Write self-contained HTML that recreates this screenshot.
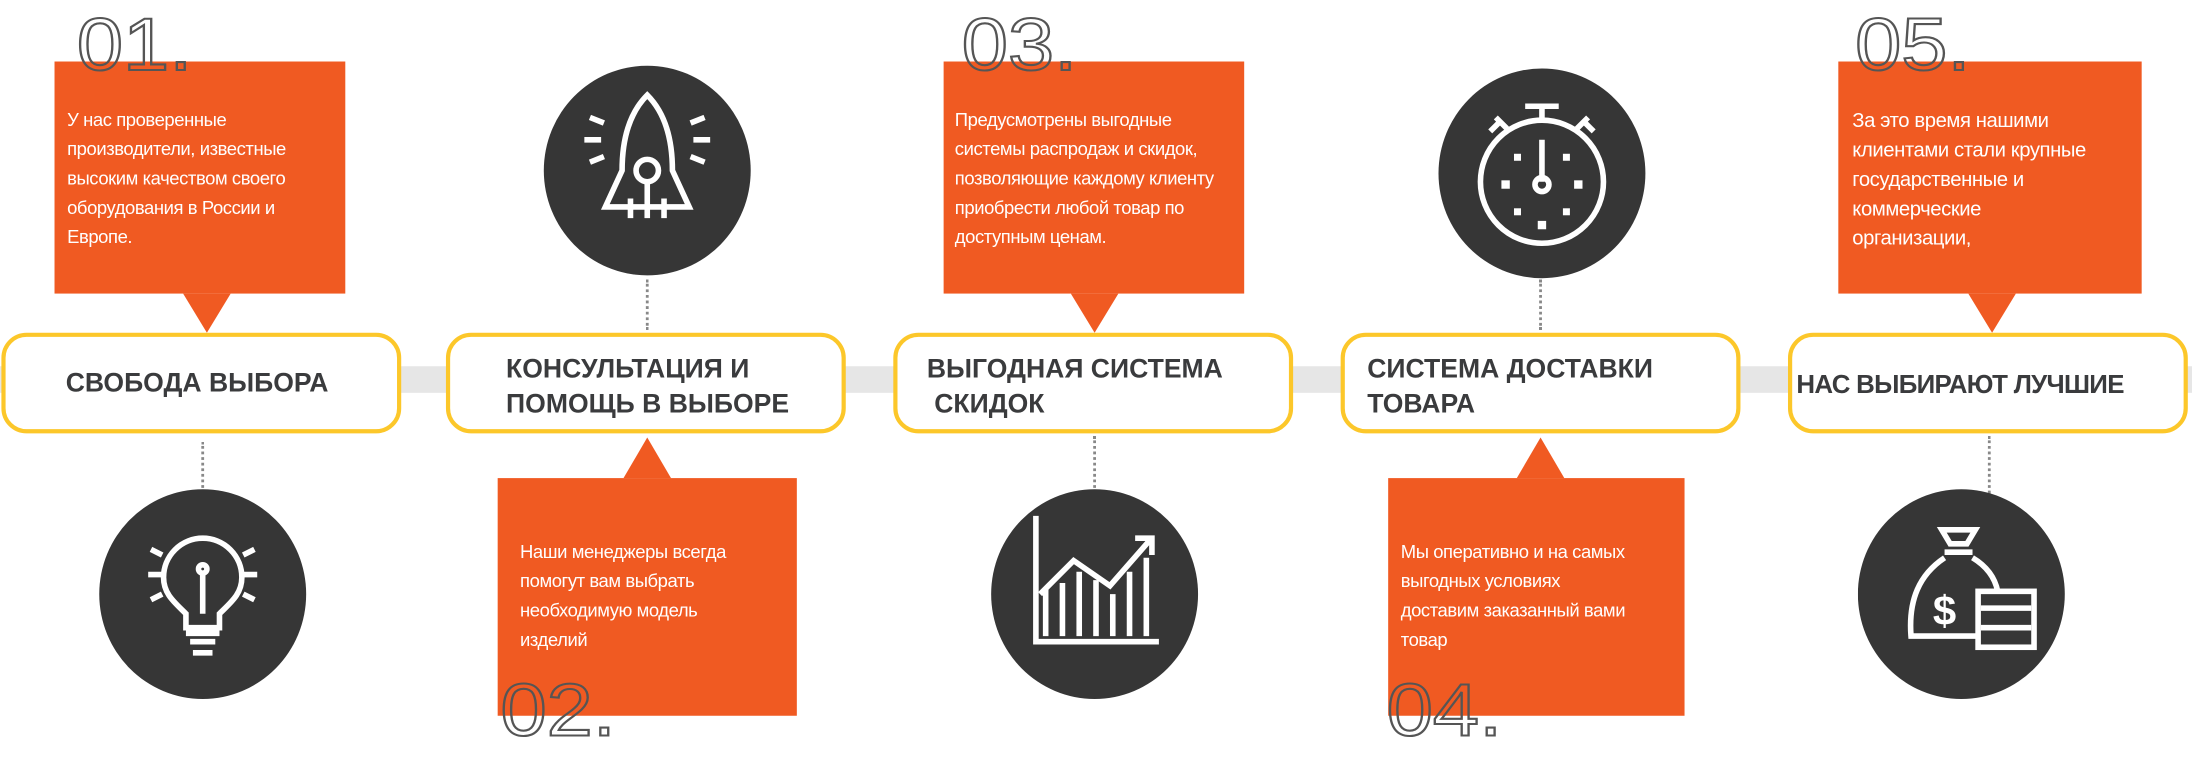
<!DOCTYPE html>
<html><head><meta charset="utf-8"><style>
html,body{margin:0;padding:0;background:#fff;width:2192px;height:764px;overflow:hidden}
#w{position:absolute;left:0;top:0;width:1568px;height:547px;transform:scale(1.39796);transform-origin:0 0;font-family:"Liberation Sans","DejaVu Sans",sans-serif}
.band{position:absolute;left:0;top:262px;width:1568px;height:19px;background:#e6e6e6}
.pill{position:absolute;top:238px;width:280px;height:66px;border:3px solid #fcc72a;border-radius:18px;background:#fff;box-sizing:content-box}
.pill div{position:absolute;font-weight:bold;font-size:19px;line-height:25px;color:#3a3b3d}
.box{position:absolute;background:#f05a22;color:#fff;font-size:13.2px;line-height:21px;letter-spacing:-0.3px}
.box p{margin:0;position:absolute}
.tri{position:absolute;width:0;height:0;border-left:17px solid transparent;border-right:17px solid transparent}
.num{position:absolute;font-size:53px;font-weight:normal;color:transparent;-webkit-text-stroke:1.5px #555;letter-spacing:0px;line-height:50px;transform:scaleX(1.12);transform-origin:0 0}
.dot{position:absolute;width:0;border-left:2px dotted #888}
svg.c{position:absolute}
</style></head><body><div id="w">
<div class="band"></div>

<!-- 1 -->
<div class="box" style="left:39px;top:44px;width:208px;height:166px"><p style="left:9px;top:31px">У нас проверенные<br>производители, известные<br>высоким качеством своего<br>оборудования в России и<br>Европе.</p></div>
<div class="tri" style="left:131px;top:210px;border-top:28px solid #f05a22"></div>
<div class="num" style="left:55px;top:8px">01.</div>
<div class="pill" style="left:1px"><div style="left:43px;top:21px">СВОБОДА ВЫБОРА</div></div>
<div class="dot" style="left:144px;top:316px;height:40px"></div>
<svg class="c" style="left:70px;top:349px" width="150" height="152" viewBox="0 0 150 152"><ellipse cx="75" cy="76" rx="74" ry="75" fill="#363636"/>
<g stroke="#fff" stroke-width="4" fill="none"><path d="M63 100 v-10 c-8-8-16-14-16-26 a28 28 0 1 1 56 0 c0 12-8 18-16 26 v10 z"/><path d="M75 60 v30"/><circle cx="75" cy="58" r="3"/><path d="M63 104 h24 M66 110 h18 M68 118 h14"/><path d="M38 44 l8 4 M36 62 h10 M38 80 l8 -4 M112 44 l-8 4 M114 62 h-10 M112 80 l-8 -4"/></g></svg>

<!-- 2 -->
<div class="box" style="left:356px;top:342px;width:214px;height:170px"><p style="left:16px;top:42px">Наши менеджеры всегда<br>помогут вам выбрать<br>необходимую модель<br>изделий</p></div>
<div class="tri" style="left:446px;top:313px;border-bottom:29px solid #f05a22"></div>
<div class="num" style="left:358px;top:484px">02.</div>
<div class="pill" style="left:319px"><div style="left:40px;top:11px">КОНСУЛЬТАЦИЯ И<br>ПОМОЩЬ В ВЫБОРЕ</div></div>
<div class="dot" style="left:462px;top:200px;height:36px"></div>
<svg class="c" style="left:388px;top:46px" width="150" height="152" viewBox="0 0 150 152"><ellipse cx="75" cy="76" rx="74" ry="75" fill="#363636"/>
<g stroke="#fff" stroke-width="4" fill="none"><path d="M75 22 c-14 14-18 34-18 54 l-12 26 h60 l-12-26 c0-20-4-40-18-54z"/><circle cx="75" cy="76" r="8"/><path d="M75 84 v26 M63 96 v14 M87 96 v14"/><path d="M34 38 l10 4 M30 54 h12 M34 70 l10-4 M116 38 l-10 4 M120 54 h-12 M116 70 l-10-4"/></g></svg>

<!-- 3 -->
<div class="box" style="left:675px;top:44px;width:215px;height:166px"><p style="left:8px;top:31px;white-space:nowrap">Предусмотрены выгодные<br>системы распродаж и скидок,<br>позволяющие каждому клиенту<br>приобрести любой товар по<br>доступным ценам.</p></div>
<div class="tri" style="left:766px;top:210px;border-top:28px solid #f05a22"></div>
<div class="num" style="left:688px;top:8px">03.</div>
<div class="pill" style="left:639px"><div style="left:21px;top:11px">ВЫГОДНАЯ СИСТЕМА<br>&nbsp;СКИДОК</div></div>
<div class="dot" style="left:782px;top:312px;height:44px"></div>
<svg class="c" style="left:708px;top:349px" width="150" height="152" viewBox="0 0 150 152"><ellipse cx="75" cy="76" rx="74" ry="75" fill="#363636"/>
<g stroke="#fff" stroke-width="4" fill="none"><path d="M33 20 v90 h88"/><path d="M40 106 v-34 M52 106 v-38 M64 106 v-46 M76 106 v-40 M88 106 v-30 M100 106 v-46 M112 106 v-56"/><path d="M36 76 l24-24 l26 18 l28-32"/><path d="M104 36 h12 v12"/></g></svg>

<!-- 4 -->
<div class="box" style="left:993px;top:342px;width:212px;height:170px"><p style="left:9px;top:42px">Мы оперативно и на самых<br>выгодных условиях<br>доставим заказанный вами<br>товар</p></div>
<div class="tri" style="left:1085px;top:313px;border-bottom:29px solid #f05a22"></div>
<div class="num" style="left:992px;top:484px">04.</div>
<div class="pill" style="left:959px"><div style="left:16px;top:11px">СИСТЕМА ДОСТАВКИ<br>ТОВАРА</div></div>
<div class="dot" style="left:1101px;top:200px;height:36px"></div>
<svg class="c" style="left:1028px;top:48px" width="150" height="152" viewBox="0 0 150 152"><ellipse cx="75" cy="76" rx="74" ry="75" fill="#363636"/>
<g stroke="#fff" stroke-width="4" fill="none"><circle cx="75" cy="82" r="44"/><path d="M63 28 h24 M75 28 v10 M75 52 v30"/><circle cx="75" cy="84" r="5"/><path d="M38 46 l8-8 M42 36 l8 8 M112 46 l-8-8 M108 36 l-8 8"/></g>
<g fill="#fff"><rect x="46" y="81" width="6" height="6"/><rect x="98" y="81" width="6" height="6"/><rect x="72" y="110" width="6" height="6"/><rect x="55" y="62" width="5" height="5"/><rect x="90" y="62" width="5" height="5"/><rect x="55" y="101" width="5" height="5"/><rect x="90" y="101" width="5" height="5"/></g></svg>

<!-- 5 -->
<div class="box" style="left:1315px;top:44px;width:217px;height:166px;font-size:14.5px;line-height:21px"><p style="left:10px;top:33px">За это время нашими<br>клиентами стали крупные<br>государственные и<br>коммерческие<br>организации,</p></div>
<div class="tri" style="left:1408px;top:210px;border-top:28px solid #f05a22"></div>
<div class="num" style="left:1327px;top:8px">05.</div>
<div class="pill" style="left:1279px"><div style="left:3px;top:21px;font-size:18.5px;letter-spacing:-0.5px">НАС ВЫБИРАЮТ ЛУЧШИЕ</div></div>
<div class="dot" style="left:1422px;top:312px;height:44px"></div>
<svg class="c" style="left:1329px;top:349px" width="150" height="152" viewBox="0 0 150 152"><ellipse cx="74" cy="76" rx="74" ry="75" fill="#363636"/>
<g stroke="#fff" stroke-width="4" fill="none"><path d="M60 30 h24 l-6 10 h-12 z M62 46 h20"/><path d="M62 50 c-18 12-26 30-24 56 h48"/><path d="M82 50 c10 6 16 14 18 24"/><rect x="86" y="74" width="40" height="40"/><path d="M88 86 h36 M88 100 h36"/></g>
<text x="62" y="98" font-family="Liberation Sans,sans-serif" font-weight="bold" font-size="30" fill="#fff" text-anchor="middle">$</text></svg>
</div></body></html>
